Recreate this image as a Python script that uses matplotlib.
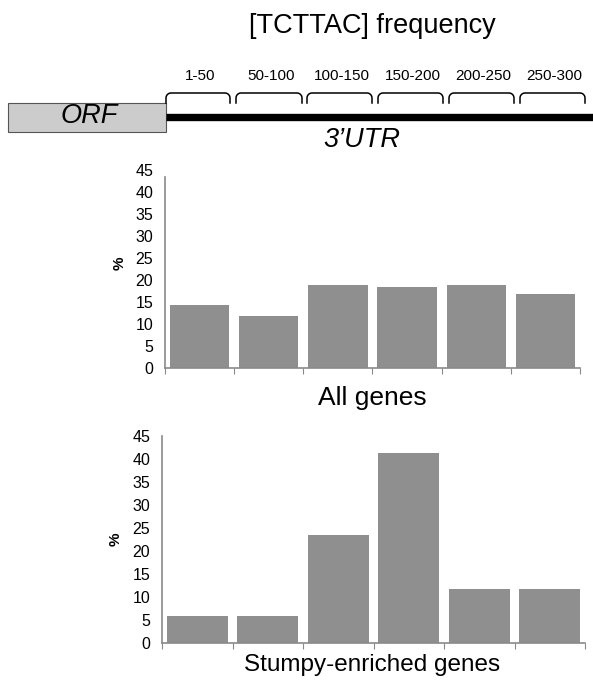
import matplotlib.pyplot as plt
import numpy as np
from matplotlib.patches import Rectangle

plt.rcParams['font.family'] = ['Liberation Sans', 'DejaVu Sans']

# data
bins = ['1-50', '50-100', '100-150', '150-200', '200-250', '250-300']
all_genes = [14.3, 11.9, 18.8, 18.4, 18.9, 16.9]
stumpy_genes = [5.9, 5.9, 23.5, 41.2, 11.8, 11.8]
yticks = [0, 5, 10, 15, 20, 25, 30, 35, 40, 45]

bar_col = '#8f8f8f'
axis_col = '#8a8a8a'

fig = plt.figure(figsize=(5.93, 6.81), dpi=100)

# diagram layer in pixel coords
ov = fig.add_axes([0, 0, 1, 1])
ov.set_xlim(0, 593)
ov.set_ylim(681, 0)
ov.axis('off')

ov.text(372, 26, '[TCTTAC] frequency', ha='center', va='center', fontsize=19.5)
ov.add_patch(Rectangle((8, 102.5), 158, 29.5, facecolor='#cccccc', edgecolor='#555555', lw=0.8))
ov.text(89, 116, 'ORF', ha='center', va='center', fontsize=19.5, style='italic')
ov.plot([166, 593], [117, 117], color='black', lw=5.3, solid_capstyle='butt')
ov.text(362, 140, "3\u2019UTR", ha='center', va='center', fontsize=19.5, style='italic')

# brackets over the 3'UTR
edges = [(166, 230), (236, 302), (307, 372), (378, 443), (449, 514), (520, 585)]
t = np.linspace(0, np.pi / 2, 8)
for (x0, x1), lab in zip(edges, bins):
    r = 5
    lx = x0 + r - r * np.cos(t)
    ly = 93 + r - r * np.sin(t)
    rx = x1 - r + r * np.sin(t)
    ry = 93 + r - r * np.cos(t)
    xs = np.concatenate([[x0], lx, rx, [x1]])
    ys = np.concatenate([[103], ly, ry, [103]])
    ov.plot(xs, ys, color='black', lw=1.1)
    ov.text((x0 + x1) / 2 + 2, 76, lab, ha='center', va='center', fontsize=11)


def bar_panel(rect, vals, label, label_y, label_size, pct_y, top_spine=45):
    ax = fig.add_axes(rect)
    x = np.arange(len(vals))
    ax.bar(x, vals, width=0.86, color=bar_col)
    ax.set_xlim(-0.5, len(vals) - 0.5)
    ax.set_ylim(0, 45)
    ax.set_yticks(yticks)
    ax.set_xticks(np.arange(len(vals) + 1) - 0.5)
    ax.set_xticklabels([])
    ax.tick_params(axis='y', length=0, pad=8.5, labelsize=11.5, colors='black')
    ax.tick_params(axis='x', length=4.5, direction='out', color=axis_col)
    for s in ['top', 'right']:
        ax.spines[s].set_visible(False)
    for s in ['left', 'bottom']:
        ax.spines[s].set_color(axis_col)
        ax.spines[s].set_linewidth(1.2)
    ax.spines['left'].set_bounds(0, top_spine)
    ax.set_ylabel('%', fontsize=11, fontweight='bold')
    ax.yaxis.set_label_coords(-0.092, pct_y)
    ov.text(372, label_y, label, ha='center', va='center', fontsize=label_size)
    return ax


bar_panel([165 / 593, 1 - 368 / 681, 415 / 593, 198 / 681], all_genes,
          'All genes', 398, 19, 0.53, top_spine=43.4)
bar_panel([162 / 593, 1 - 643 / 681, 423 / 593, 207 / 681], stumpy_genes,
          'Stumpy-enriched genes', 665, 17.5, 0.50)

fig.savefig('out.png', dpi=100)
